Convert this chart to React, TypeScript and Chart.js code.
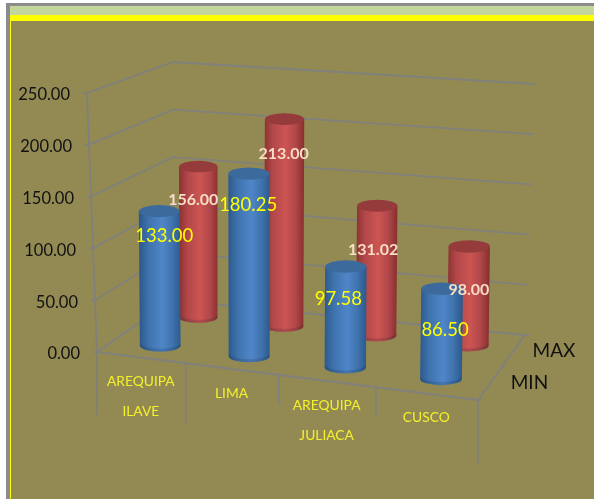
import React, { useEffect, useRef } from "react";
import { Chart, registerables } from "chart.js";

Chart.register(...registerables);

const categories: (string | string[])[] = [["AREQUIPA", "ILAVE"], "LIMA", ["AREQUIPA", "JULIACA"], "CUSCO"];
const minValues = [133.0, 180.25, 97.58, 86.5];
const maxValues = [156.0, 213.0, 131.02, 98.0];
const seriesNames = ["MIN", "MAX"];
const valueTicks = { min: 0, max: 250, step: 50 };

// --- styling / projection constants (no data) ---
const BG = "#938a53";
const GRID = "#80807c";
const FONT = "Lato, 'Open Sans', sans-serif";
const DEPTH = [0.27, 0.8];
const PERSPECTIVE = 0.09;
const BAR_HEIGHT = 0.975;
const BAR_DROP = 2.5;
const floor = { fl: [97, 352], fr: [478, 400], bl: [172, 300], br: [525, 335] };
const ceil = { fl: [87, 93], fr: [488, 135], bl: [173, 62], br: [535, 84] };
const axisDrops = [63, 61, 30, 30, 63];
const categoryShift = [0, 0, 3, 1];
const minLabelNudge = [[4, 24], [-1, 30], [-4, 32], [5, 41]];
const maxLabelNudge = [[-5, 33], [0, 34], [0, 43], [2, 43]];
const seriesLabelNudge = [[20, 0], [17, 3]];
const shades = [
  { dark: "#2c5a8e", mid: "#3f73ad", light: "#4f86c8", cap: "#3d6a9c" },
  { dark: "#8a3230", mid: "#b2474a", light: "#cc5552", cap: "#953b3b" },
];

const warp = (u: number) => ((1 - PERSPECTIVE) * u) / (1 - PERSPECTIVE * u);
const mix = (a: number[], b: number[], t: number) => [a[0] + (b[0] - a[0]) * t, a[1] + (b[1] - a[1]) * t];
function plane(c: typeof floor, u: number, v: number) {
  const p = warp(u);
  return mix(mix(c.fl, c.fr, p), mix(c.bl, c.br, p), v);
}
function project(u: number, v: number, w: number) {
  return mix(plane(floor, u, v), plane(ceil, u, v), w);
}
function line(ctx: CanvasRenderingContext2D, a: number[], b: number[]) {
  ctx.beginPath();
  ctx.moveTo(a[0], a[1]);
  ctx.lineTo(b[0], b[1]);
  ctx.stroke();
}

function drawCylinder(chart: any, ctx: CanvasRenderingContext2D, el: any, series: number, index: number) {
  const area = chart.chartArea;
  const u = (el.x - area.left) / (area.right - area.left);
  const w = ((el.base - el.y) / (area.bottom - area.top)) * BAR_HEIGHT;
  const v = DEPTH[series];
  const shift = categoryShift[index];
  const b0 = project(u, v, 0);
  const t0 = project(u, v, w);
  const b = [b0[0] + shift, b0[1] + BAR_DROP];
  const t = [t0[0] + shift, t0[1]];
  const tx = b[0] + (t[0] - b[0]) * 0.4;
  const rx = (el.width / 2) * (1 - 0.12 * v * (1 - u));
  const ry = rx * 0.3;
  const s = shades[series];
  const g = ctx.createLinearGradient(b[0] - rx, 0, b[0] + rx, 0);
  g.addColorStop(0, s.dark);
  g.addColorStop(0.22, s.mid);
  g.addColorStop(0.55, s.light);
  g.addColorStop(0.8, s.mid);
  g.addColorStop(1, s.dark);
  ctx.save();
  ctx.beginPath();
  ctx.moveTo(tx - rx, t[1]);
  ctx.lineTo(b[0] - rx, b[1]);
  ctx.ellipse(b[0], b[1], rx, ry, 0, Math.PI, 0, true);
  ctx.lineTo(tx + rx, t[1]);
  ctx.closePath();
  ctx.fillStyle = g;
  ctx.fill();
  // darker rim along the foot
  ctx.beginPath();
  ctx.ellipse(b[0], b[1], rx, ry, 0, Math.PI, 0, true);
  ctx.ellipse(b[0], b[1] - 3, rx, ry, 0, 0, Math.PI, false);
  ctx.closePath();
  ctx.fillStyle = "rgba(20,30,50,0.16)";
  ctx.fill();
  // cap
  ctx.beginPath();
  ctx.ellipse(tx, t[1], rx, ry, 0, 0, Math.PI * 2);
  ctx.fillStyle = s.cap;
  ctx.fill();
  ctx.restore();
}

const cylinderPlugin = {
  id: "cylinders",
  afterDatasetsUpdate(chart: any) {
    chart.data.datasets.forEach((_: any, di: number) => {
      chart.getDatasetMeta(di).data.forEach((el: any, i: number) => {
        el.draw = (ctx: CanvasRenderingContext2D) => drawCylinder(chart, ctx, el, di, i);
      });
    });
  },
  beforeDraw(chart: any) {
    const { ctx, width, height } = chart;
    ctx.save();
    ctx.fillStyle = "#ffffff";
    ctx.fillRect(0, 0, width, height);
    ctx.fillStyle = "#8c8c8c";
    ctx.fillRect(6, 3, width - 6, height - 3);
    ctx.fillStyle = "#c3d69b";
    ctx.fillRect(10, 6, width - 10, 9);
    ctx.fillStyle = "#ffff00";
    ctx.fillRect(10, 15, width - 10, height - 15);
    ctx.fillStyle = BG;
    ctx.fillRect(11, 21, width - 11, height - 21);
    ctx.restore();
  },
  beforeDatasetsDraw(chart: any) {
    const { ctx, scales } = chart;
    const y = scales.y;
    const area = chart.chartArea;
    const frac = (val: number) => (area.bottom - y.getPixelForValue(val)) / (area.bottom - area.top);
    ctx.save();
    ctx.strokeStyle = GRID;
    ctx.lineWidth = 1.8;
    y.ticks.forEach((tick: any) => {
      const w = frac(tick.value);
      const a = project(0, 0, w);
      const b = project(0, 1, w);
      const c = project(1, 1, w);
      ctx.beginPath();
      ctx.moveTo(a[0] - 4, a[1]);
      ctx.lineTo(a[0], a[1]);
      ctx.lineTo(b[0], b[1]);
      ctx.lineTo(c[0], c[1]);
      ctx.stroke();
    });
    line(ctx, project(0, 0, 0), project(0, 0, 1));
    const n = categories.length;
    line(ctx, project(0, 0, 0), project(1, 0, 0));
    line(ctx, project(1, 0, 0), project(1, 1, 0));
    for (let i = 0; i <= n; i++) {
      const p = project(i / n, 0, 0);
      line(ctx, p, [p[0], p[1] + axisDrops[i]]);
    }
    [0, 0.5, 1].forEach((v) => {
      const p = project(1, v, 0);
      line(ctx, p, [p[0] + 4, p[1]]);
    });
    ctx.restore();
  },
  afterDraw(chart: any) {
    const { ctx, scales } = chart;
    const y = scales.y;
    const x = scales.x;
    const area = chart.chartArea;
    ctx.save();
    ctx.textBaseline = "middle";

    // value axis labels
    ctx.textAlign = "right";
    ctx.font = `16.5px ${FONT}`;
    ctx.fillStyle = "#111111";
    y.ticks.forEach((tick: any) => {
      const w = (area.bottom - y.getPixelForValue(tick.value)) / (area.bottom - area.top);
      const p = project(0, 0, w);
      ctx.fillText(Number(tick.value).toFixed(2), p[0] - 17, p[1] + 2);
    });

    // category labels
    ctx.textAlign = "center";
    ctx.font = `13.8px ${FONT}`;
    ctx.fillStyle = "#f4f02c";
    categories.forEach((cat, i) => {
      const u = (x.getPixelForValue(i) - area.left) / (area.right - area.left);
      const p = project(u, 0, 0);
      const lines = Array.isArray(cat) ? cat : [cat];
      lines.forEach((t, j) => ctx.fillText(t, p[0], p[1] + 24.5 + j * 30));
    });

    // series (depth) labels
    ctx.textAlign = "left";
    ctx.font = `19px ${FONT}`;
    ctx.fillStyle = "#111111";
    seriesNames.forEach((name, i) => {
      const p = project(1, DEPTH[i], 0);
      ctx.fillText(name, p[0] + seriesLabelNudge[i][0], p[1] + seriesLabelNudge[i][1]);
    });

    // data labels
    ctx.textAlign = "center";
    chart.data.datasets.forEach((ds: any, di: number) => {
      const nudges = di === 0 ? minLabelNudge : maxLabelNudge;
      ctx.font = di === 0 ? `18.5px ${FONT}` : `bold 16px ${FONT}`;
      ctx.fillStyle = di === 0 ? "#ffff00" : "#f8dcc4";
      chart.getDatasetMeta(di).data.forEach((el: any, i: number) => {
        const u = (el.x - area.left) / (area.right - area.left);
        const w = ((el.base - el.y) / (area.bottom - area.top)) * 0.97;
        const p = project(u, DEPTH[di], w);
        const b = project(u, DEPTH[di], 0);
        ctx.fillText(Number(ds.data[i]).toFixed(2), b[0] + nudges[i][0], p[1] + nudges[i][1]);
      });
    });
    ctx.restore();
  },
};

export default function App() {
  const ref = useRef<HTMLCanvasElement>(null);
  useEffect(() => {
    document.body.style.margin = "0";
    const chart = new Chart(ref.current as HTMLCanvasElement, {
      type: "bar",
      data: {
        labels: categories as any,
        datasets: [
          { label: seriesNames[0], data: minValues, backgroundColor: "#4f86c8", clip: false as any },
          { label: seriesNames[1], data: maxValues, backgroundColor: "#cc5552", clip: false as any },
        ],
      },
      options: {
        animation: false,
        responsive: false,
        layout: { padding: { left: 97, right: 116, top: 93, bottom: 147 } },
        plugins: { legend: { display: false }, title: { display: false }, tooltip: { enabled: false } },
        datasets: { bar: { grouped: false, barPercentage: 0.44, categoryPercentage: 1 } },
        scales: {
          x: { display: false },
          y: { display: false, min: valueTicks.min, max: valueTicks.max, ticks: { stepSize: valueTicks.step } },
        },
      } as any,
      plugins: [cylinderPlugin],
    });
    return () => chart.destroy();
  }, []);
  return <canvas ref={ref} width={594} height={499} style={{ display: "block", width: 594, height: 499 }} />;
}
